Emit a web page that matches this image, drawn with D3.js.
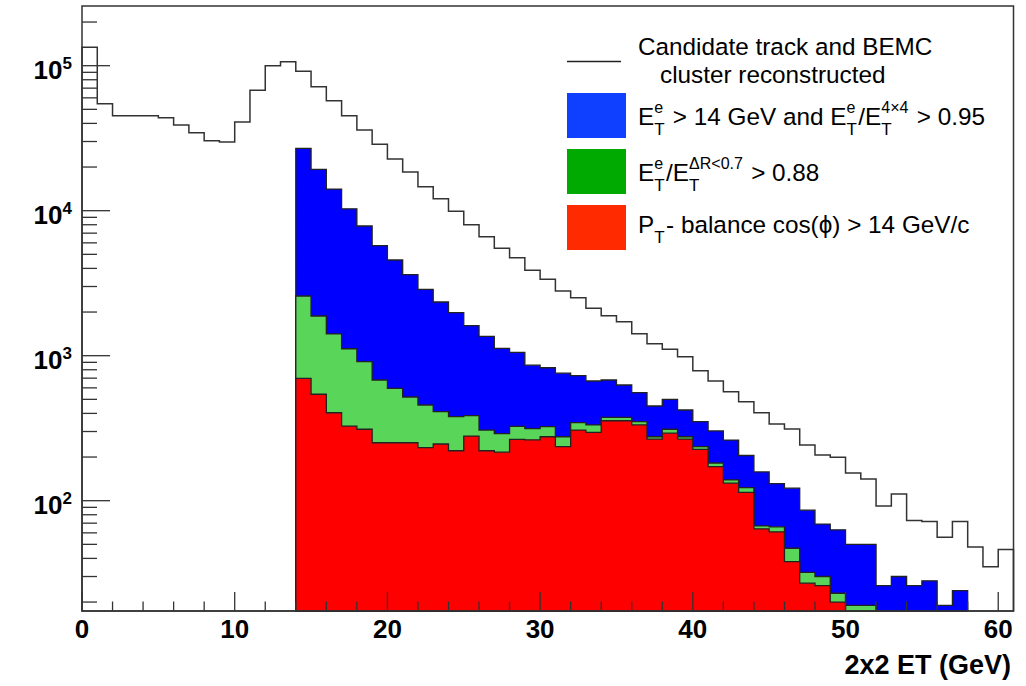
<!DOCTYPE html>
<html>
<head>
<meta charset="utf-8">
<script src="https://cdn.jsdelivr.net/npm/d3@7"></script>
<style>
  html, body { margin: 0; padding: 0; background: #fff; }
  svg { display: block; font-family: "Liberation Sans", Arial, Helvetica, sans-serif; }
</style>
</head>
<body>
<svg id="chart" width="1026" height="686"></svg>
<script>
// 1 GeV bins; each series starts at its own first bin edge
var allLo = 0;
var allCounts = [134000, 54700, 45200, 45200, 45200, 43800, 39000, 34500, 30400, 29800,
  40900, 67700, 100000, 106600, 91500, 71700, 57400, 45200, 36000, 28700,
  22700, 18500, 14600, 12100, 9910, 8000, 6620, 5500, 4740, 3880,
  3365, 2795, 2512, 2123, 1888, 1716, 1419, 1210, 1107, 984,
  788, 669, 565, 482, 404, 338, 312, 242, 207, 199,
  155, 141, 92, 111, 73, 72, 56, 72, 48, 35, 46];

var blueLo = 14;
var blueCounts = [26900, 19300, 14100, 10300, 7840, 5740, 4570, 3620, 2870, 2345,
  1980, 1610, 1360, 1125, 1055, 860, 826, 757, 728, 669,
  680, 628, 556, 450, 500, 422, 351, 303, 262, 205,
  158, 131, 122, 86, 69, 63, 50, 50, 26, 30, 26, 28, 19, 24];

var greenLo = 14;
var greenCounts = [2580, 1878, 1412, 1117, 910, 680, 596, 519, 457, 411,
  380, 386, 307, 290, 326, 314, 324, 276, 345, 333,
  376, 376, 351, 276, 311, 276, 236, 182, 139, 123,
  67, 66, 47, 32, 30, 23, 19, 19];

var redLo = 14;
var redCounts = [698, 542, 404, 327, 311, 251, 251, 251, 232, 246,
  221, 279, 221, 216, 265, 263, 276, 236, 307, 296,
  356, 356, 333, 266, 292, 266, 226, 172, 132, 114,
  64, 61, 38, 27, 26, 20];

var xMajor = [0, 10, 20, 30, 40, 50, 60];
var yMajor = [1e2, 1e3, 1e4, 1e5];

(function () {
  var svg = d3.select("#chart");
  var pL = 82, pR = 1013.5, pT = 6, pB = 611;

  var x = d3.scaleLinear().domain([0, 61]).range([pL, pR]);
  var y = d3.scaleLog().domain([17.35, 2.58e5]).range([pB, pT]).clamp(true);

  function steps(lo, counts) {
    var pts = counts.map(function (c, i) { return {x: lo + i, v: c}; });
    pts.push({x: lo + counts.length, v: counts[counts.length - 1]});
    return pts;
  }

  var area = d3.area()
    .x(function (d) { return x(d.x); })
    .y0(pB)
    .y1(function (d) { return y(d.v); })
    .curve(d3.curveStepAfter);

  svg.append("path").datum(steps(allLo, allCounts))
    .attr("d", area).attr("fill", "none")
    .attr("stroke", "#333").attr("stroke-width", 1.5);

  [[blueLo, blueCounts, "#0000ff"], [greenLo, greenCounts, "#59d659"], [redLo, redCounts, "#ff0000"]]
    .forEach(function (s) {
      svg.append("path").datum(steps(s[0], s[1]))
        .attr("d", area).attr("fill", s[2])
        .attr("stroke", "#222").attr("stroke-width", 1.3);
    });

  // frame
  svg.append("rect")
    .attr("x", pL).attr("y", pT)
    .attr("width", pR - pL).attr("height", pB - pT)
    .attr("fill", "none").attr("stroke", "#333").attr("stroke-width", 1.5);

  // y ticks
  var yMinor = [];
  [10, 100, 1000, 10000, 100000].forEach(function (d) {
    for (var k = 2; k <= 9; k += 1) {
      var v = d * k;
      if (v > y.domain()[0] && v < y.domain()[1]) { yMinor.push(v); }
    }
  });
  svg.selectAll(".yminor").data(yMinor).enter().append("line")
    .attr("x1", pL).attr("x2", pL + 15)
    .attr("y1", function (d) { return y(d); }).attr("y2", function (d) { return y(d); })
    .attr("stroke", "#333").attr("stroke-width", 1.3);
  svg.selectAll(".ymajor").data(yMajor).enter().append("line")
    .attr("x1", pL).attr("x2", pL + 28)
    .attr("y1", function (d) { return y(d); }).attr("y2", function (d) { return y(d); })
    .attr("stroke", "#333").attr("stroke-width", 1.3);

  var ylab = svg.selectAll(".ylab").data(yMajor).enter().append("text")
    .attr("x", 72).attr("y", function (d) { return y(d) + 13.5; })
    .attr("text-anchor", "end")
    .attr("font-weight", "bold").attr("font-size", 26).attr("fill", "#000");
  ylab.append("tspan").text("10");
  ylab.append("tspan").attr("dy", -10).attr("font-size", 17)
    .text(function (d) { return Math.round(Math.log10(d)); });

  // x ticks
  var xMinor = d3.range(2, 61, 2).filter(function (d) { return d % 10 !== 0; });
  svg.selectAll(".xminor").data(xMinor).enter().append("line")
    .attr("x1", function (d) { return x(d); }).attr("x2", function (d) { return x(d); })
    .attr("y1", pB).attr("y2", pB - 9.5)
    .attr("stroke", "#333").attr("stroke-width", 1.3);
  svg.selectAll(".xmajor").data(xMajor).enter().append("line")
    .attr("x1", function (d) { return x(d); }).attr("x2", function (d) { return x(d); })
    .attr("y1", pB).attr("y2", pB - 19)
    .attr("stroke", "#333").attr("stroke-width", 1.3);
  svg.selectAll(".xlab").data(xMajor).enter().append("text")
    .attr("x", function (d) { return x(d); }).attr("y", 638)
    .attr("text-anchor", "middle")
    .attr("font-weight", "bold").attr("font-size", 26).attr("fill", "#000")
    .text(function (d) { return d; });

  svg.append("text")
    .attr("x", 1011).attr("y", 674).attr("text-anchor", "end")
    .attr("font-weight", "bold").attr("font-size", 27).attr("fill", "#000")
    .text("2x2 ET (GeV)");

  // legend
  var fs = 24.3, supFs = 16, subFs = 17;
  function richText(x0, yb, parts) {
    var g = svg.append("g");
    var cx = x0;
    parts.forEach(function (p) {
      if (typeof p === "string") {
        var t = g.append("text").attr("x", cx).attr("y", yb)
          .attr("font-size", fs).attr("fill", "#000")
          .style("white-space", "pre").text(p);
        cx += t.node().getComputedTextLength();
      } else {
        var w = 0;
        if (p.sup) {
          var a = g.append("text").attr("x", cx).attr("y", yb - 12)
            .attr("font-size", supFs).attr("fill", "#000").text(p.sup);
          w = Math.max(w, a.node().getComputedTextLength());
        }
        if (p.sub) {
          var b = g.append("text").attr("x", cx).attr("y", yb + 10)
            .attr("font-size", subFs).attr("fill", "#000").text(p.sub);
          w = Math.max(w, b.node().getComputedTextLength());
        }
        cx += w + 1.5;
      }
    });
  }

  svg.append("line").attr("x1", 567).attr("x2", 621).attr("y1", 61.5).attr("y2", 61.5)
    .attr("stroke", "#222").attr("stroke-width", 1.3);
  svg.append("rect").attr("x", 567).attr("y", 93).attr("width", 59).attr("height", 45).attr("fill", "#1040ff");
  svg.append("rect").attr("x", 567).attr("y", 149).attr("width", 59).attr("height", 45).attr("fill", "#00aa00");
  svg.append("rect").attr("x", 567).attr("y", 205).attr("width", 59).attr("height", 45).attr("fill", "#ff2a00");

  richText(638, 55, ["Candidate track and BEMC"]);
  richText(660, 83, ["cluster reconstructed"]);
  richText(638, 125, ["E", {sup: "e", sub: "T"}, " > 14 GeV and E", {sup: "e", sub: "T"}, "/E", {sup: "4\u00d74", sub: "T"}, " > 0.95"]);
  richText(638, 180.5, ["E", {sup: "e", sub: "T"}, "/E", {sup: "\u0394R<0.7", sub: "T"}, " > 0.88"]);
  richText(638, 232.5, ["P", {sub: "T"}, "- balance cos(\u03d5) > 14 GeV/c"]);
}());
</script>
</body>
</html>
